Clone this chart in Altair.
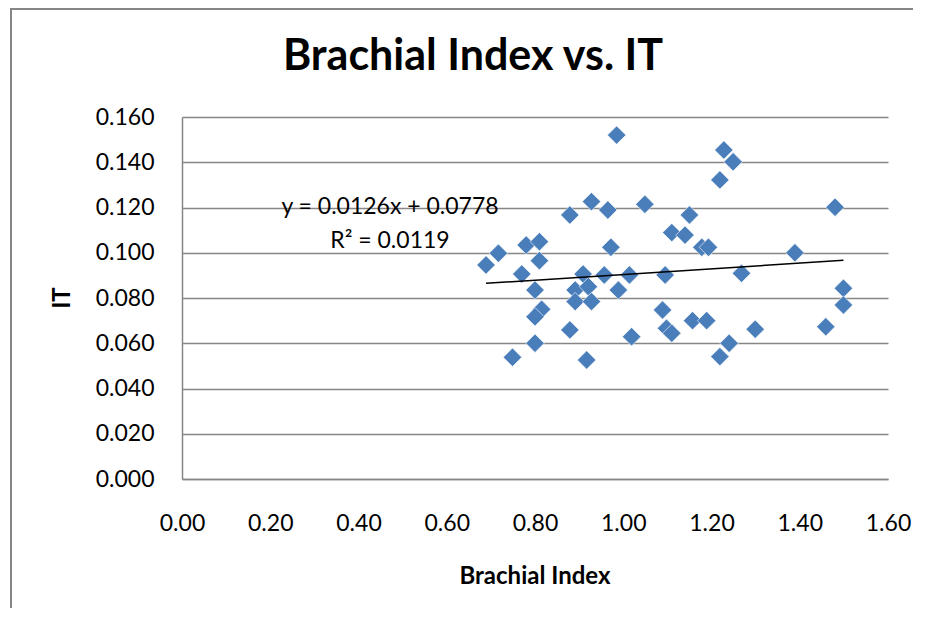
import altair as alt
import pandas as pd

# Data
brachial_index = [0.985, 0.689, 0.717, 0.780, 0.810, 0.810, 0.770, 0.800, 0.815, 0.800,
                  0.800, 0.749, 0.879, 0.928, 0.965, 0.972, 1.049, 0.909, 0.957, 1.014,
                  0.891, 0.921, 0.891, 0.928, 0.989, 0.879, 1.019, 0.917, 1.228, 1.249,
                  1.219, 1.150, 1.110, 1.140, 1.178, 1.193, 1.389, 1.480, 1.095, 1.268,
                  1.499, 1.499, 1.089, 1.157, 1.189, 1.098, 1.110, 1.299, 1.459, 1.240,
                  1.219]
it_values = [0.152, 0.0946, 0.0998, 0.1034, 0.1049, 0.0965, 0.0906, 0.0835, 0.0750, 0.0717,
             0.0600, 0.0538, 0.1167, 0.1226, 0.1189, 0.1024, 0.1214, 0.0906, 0.0902, 0.0902,
             0.0835, 0.0850, 0.0784, 0.0784, 0.0835, 0.0659, 0.0629, 0.0526, 0.1454, 0.1402,
             0.1322, 0.1167, 0.1089, 0.1078, 0.1024, 0.1024, 0.1000, 0.1201, 0.0902, 0.0909,
             0.0843, 0.0769, 0.0747, 0.0700, 0.0700, 0.0666, 0.0644, 0.0662, 0.0673, 0.0600,
             0.0541]

x_ticks = [0.0, 0.2, 0.4, 0.6, 0.8, 1.0, 1.2, 1.4, 1.6]
y_ticks = [0.0, 0.02, 0.04, 0.06, 0.08, 0.10, 0.12, 0.14, 0.16]

slope = 0.0126
intercept = 0.0778
equation_text = "y = 0.0126x + 0.0778"
r2_text = "R² = 0.0119"
title_text = "Brachial Index vs. IT"
x_title = "Brachial Index"
y_title = "IT"

FONT = "Lato"
GRAY = "#868686"
BLUE = "#4A7EBB"
W, H = 706, 362

df = pd.DataFrame({"bi": brachial_index, "it": it_values})
trend_df = pd.DataFrame({"bi": [min(brachial_index), max(brachial_index)]})
one = pd.DataFrame({"a": [0]})

xscale = alt.Scale(domain=[0, 1.6], nice=False, zero=False)
yscale = alt.Scale(domain=[0, 0.16], nice=False, zero=False)

points = alt.Chart(df).mark_point(
    shape="diamond", filled=True, size=340, color=BLUE, opacity=1,
    stroke="white", strokeWidth=0.6
).encode(
    x=alt.X("bi:Q", scale=xscale,
            axis=alt.Axis(values=x_ticks, format=".2f", grid=False, title=None,
                          labelPadding=33, labelFlush=False,
                          domainColor=GRAY, domainWidth=1.5)),
    y=alt.Y("it:Q", scale=yscale,
            axis=alt.Axis(values=y_ticks, format=".3f", grid=True, title=None,
                          labelPadding=28, labelFlush=False,
                          gridColor=GRAY, gridWidth=1.5,
                          domainColor=GRAY, domainWidth=1.5)),
)

trend = alt.Chart(trend_df).transform_calculate(
    fit=f"{slope} * datum.bi + {intercept}"
).mark_line(color="black", strokeWidth=1.5).encode(
    x=alt.X("bi:Q", scale=xscale),
    y=alt.Y("fit:Q", scale=yscale),
)

eq1 = alt.Chart(one).mark_text(font=FONT, fontSize=23, align="center", baseline="alphabetic",
                               color="black").encode(
    x=alt.value(208), y=alt.value(97), text=alt.value(equation_text))
eq2 = alt.Chart(one).mark_text(font=FONT, fontSize=23, align="center", baseline="alphabetic",
                               color="black").encode(
    x=alt.value(208), y=alt.value(131), text=alt.value(r2_text))

title = alt.Chart(one).mark_text(font=FONT, fontSize=43, fontWeight="bold", align="center",
                                 baseline="alphabetic", color="black").encode(
    x=alt.value(291), y=alt.value(-47), text=alt.value(title_text))

xt = alt.Chart(one).mark_text(font=FONT, fontSize=24, fontWeight="bold", align="center",
                              baseline="alphabetic", color="black").encode(
    x=alt.value(W / 2), y=alt.value(467), text=alt.value(x_title))

yt = alt.Chart(one).mark_text(font=FONT, fontSize=24, fontWeight="bold", align="center",
                              baseline="middle", angle=270, color="black").encode(
    x=alt.value(-119), y=alt.value(181), text=alt.value(y_title))

frame_left = alt.Chart(one).mark_rule(color=GRAY, strokeWidth=2).encode(
    x=alt.value(-171), y=alt.value(-109), y2=alt.value(495))
frame_top = alt.Chart(one).mark_rule(color=GRAY, strokeWidth=2).encode(
    x=alt.value(-172), x2=alt.value(740), y=alt.value(-108))

chart = alt.layer(
    frame_left, frame_top, points, trend, eq1, eq2, title, xt, yt
).properties(
    width=W, height=H,
    autosize=alt.AutoSizeParams(type="none"),
    padding={"left": 174, "top": 109, "right": 25, "bottom": 129},
    background="white",
).configure_view(
    strokeWidth=0
).configure_axis(
    labelFont=FONT, labelFontSize=23, labelColor="black",
    ticks=False, tickSize=0,
)

chart.save("out.html", embed_options={"renderer": "svg", "actions": False})
